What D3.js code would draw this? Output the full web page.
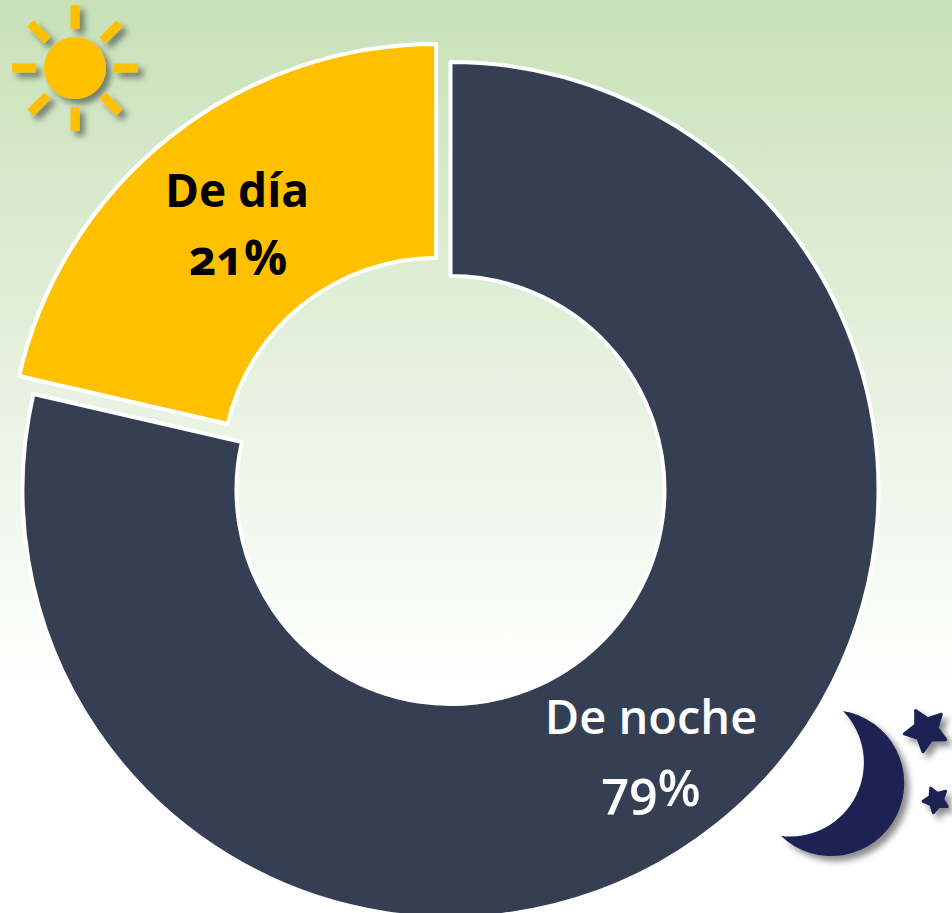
<!DOCTYPE html>
<html>
<head>
<meta charset="utf-8">
<script src="https://cdn.jsdelivr.net/npm/d3@7"></script>
<style>
  html, body { margin: 0; padding: 0; background: #fff; overflow: hidden; }
  text { font-family: "Open Sans", sans-serif; font-variant-numeric: oldstyle-nums; font-feature-settings: "onum"; }
</style>
</head>
<body>
<div id="app"></div>
<script>
const categories = ["De noche", "De día"];
const shares = [78.6, 21.4];
const percentLabels = ["79%", "21%"];
const sliceColors = ["#353f53", "#ffc000"];
const labelColors = ["#ffffff", "#000000"];
const labelWeights = [600, 700];

const width = 952, height = 913;
const cx = 450.5, cy = 490;
const outerR = 428, innerR = 214;
const explode = 23;

const svg = d3.select("#app").append("svg")
    .attr("width", width)
    .attr("height", height)
    .style("display", "block");

const defs = svg.append("defs");

const bg = defs.append("linearGradient")
    .attr("id", "bg")
    .attr("x1", 0).attr("y1", 0).attr("x2", 0).attr("y2", 1);
bg.append("stop").attr("offset", "0%").attr("stop-color", "#c8e1b8");
bg.append("stop").attr("offset", "75%").attr("stop-color", "#ffffff");

defs.append("filter")
    .attr("id", "shadow")
    .attr("x", "-30%").attr("y", "-30%").attr("width", "170%").attr("height", "170%")
  .append("feDropShadow")
    .attr("dx", 5).attr("dy", 5)
    .attr("stdDeviation", 3)
    .attr("flood-color", "#000")
    .attr("flood-opacity", 0.45);

svg.append("rect")
    .attr("width", width)
    .attr("height", height)
    .attr("fill", "url(#bg)");

// donut
const pie = d3.pie().sort(null).value(d => d)
    .startAngle(0).endAngle(2 * Math.PI);
const arc = d3.arc().innerRadius(innerR).outerRadius(outerR);
const slices = pie(shares);

svg.append("g")
    .attr("transform", "translate(" + cx + "," + cy + ")")
  .selectAll("path")
  .data(slices)
  .join("path")
    .attr("d", arc)
    .attr("fill", (d, i) => sliceColors[i])
    .attr("stroke", "#fff")
    .attr("stroke-width", 4)
    .attr("stroke-linejoin", "round")
    .attr("transform", (d, i) => {
      if (i === 0) return null;
      const mid = (d.startAngle + d.endAngle) / 2;
      return "translate(" + (Math.sin(mid) * explode) + "," + (-Math.cos(mid) * explode) + ")";
    });

// labels
const labelPos = [[651, 734, 651, 806], [237, 207, 238, 275]];
const labelSizes = [[47, 50], [46, 48]];
const labels = svg.append("g").attr("text-anchor", "middle");

categories.forEach((c, i) => {
  labels.append("text")
      .attr("x", labelPos[i][0]).attr("y", labelPos[i][1])
      .attr("font-size", labelSizes[i][0])
      .attr("font-weight", labelWeights[i])
      .attr("fill", labelColors[i])
      .text(c);
  labels.append("text")
      .attr("x", labelPos[i][2]).attr("y", labelPos[i][3])
      .attr("font-size", labelSizes[i][1])
      .attr("font-weight", labelWeights[i])
      .attr("fill", labelColors[i])
      .text(percentLabels[i]);
});

// sun
const sun = svg.append("g")
    .attr("transform", "translate(75,68)")
    .attr("fill", "#ffc000")
    .attr("filter", "url(#shadow)");
sun.append("circle").attr("r", 31);
d3.range(8).forEach(i => {
  sun.append("rect")
      .attr("x", -4.5).attr("y", -63)
      .attr("width", 9).attr("height", 24)
      .attr("transform", "rotate(" + (i * 45) + ")");
});

// moon and stars
const night = svg.append("g").attr("fill", "#1a2152").attr("filter", "url(#shadow)");
night.append("path")
    .attr("d", "M843,711 A73,73 0 1 1 781,836 A74,74 0 0 0 843,711 Z");

const starLine = d3.lineRadial().curve(d3.curveLinearClosed);
function star(x, y, r, rot) {
  const pts = d3.range(10).map(i => [(i * Math.PI) / 5, i % 2 ? r * 0.52 : r]);
  night.append("path")
      .attr("d", starLine(pts))
      .attr("transform", "translate(" + x + "," + y + ") rotate(" + rot + ")")
      .attr("stroke", "#1a2152")
      .attr("stroke-width", 3)
      .attr("stroke-linejoin", "round");
}
star(926, 730, 22, -28);
star(936, 800, 13, -24);
</script>
</body>
</html>
